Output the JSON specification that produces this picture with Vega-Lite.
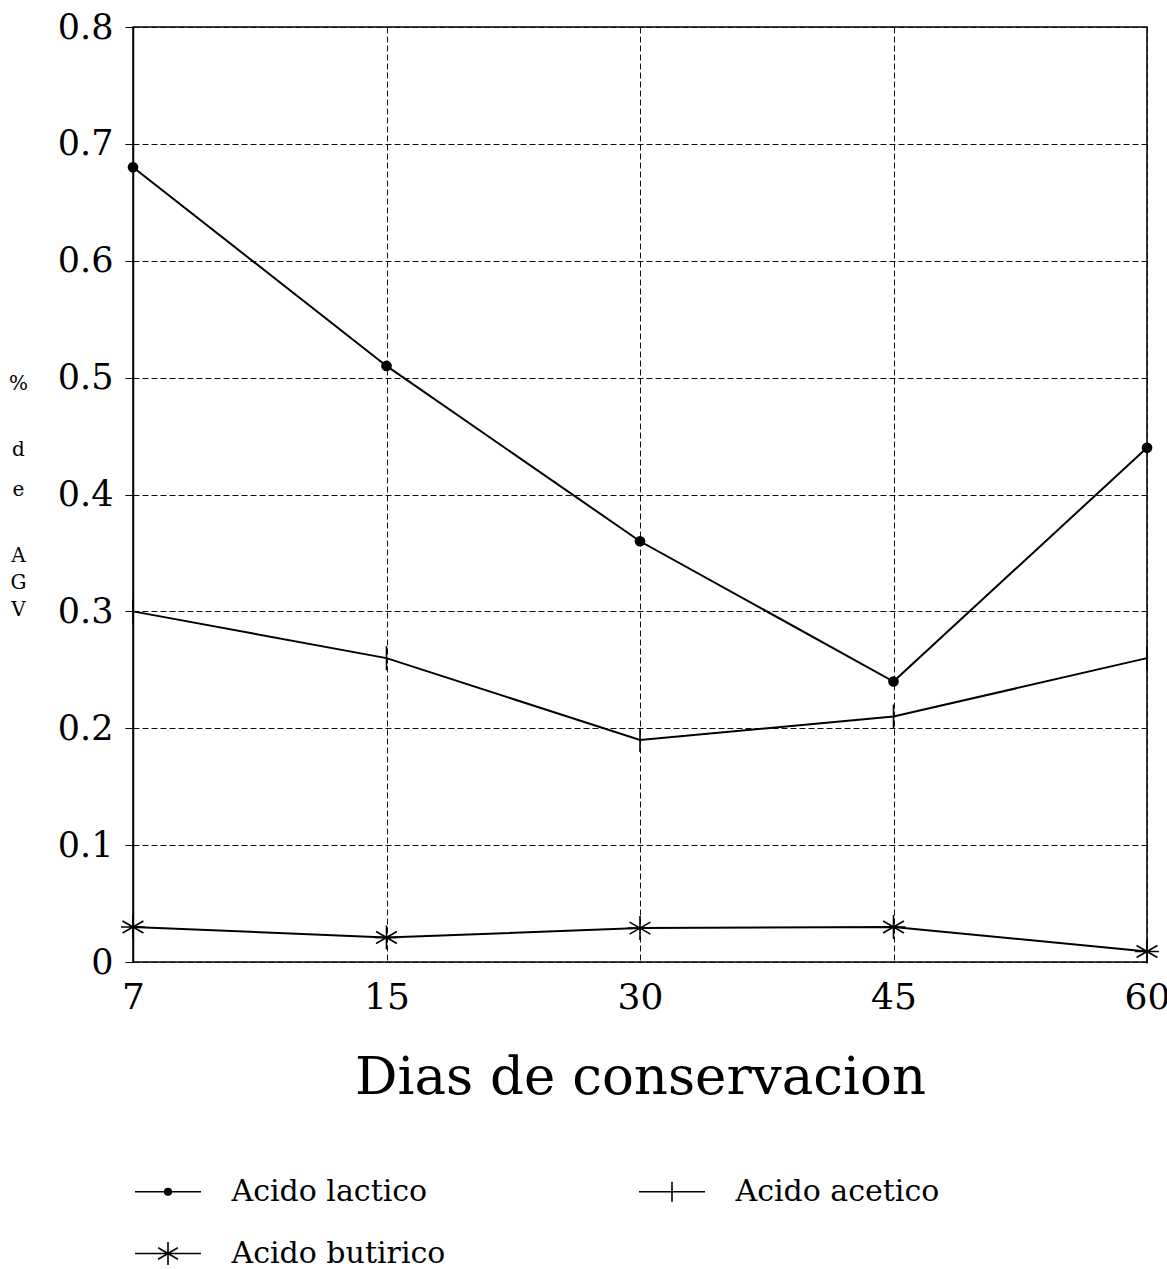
{
  "$schema": "https://vega.github.io/schema/vega-lite/v6.json",
  "width": 1014,
  "height": 935,
  "autosize": "none",
  "padding": {"left": 133, "top": 27, "right": 20, "bottom": 307},
  "background": "white",
  "config": {
    "font": "DejaVu Serif",
    "view": {"stroke": "#000", "strokeWidth": 1.5},
    "axis": {"gridDash": [6, 3], "gridColor": "#111", "gridWidth": 1, "gridOpacity": 1, "domainColor": "#000", "tickColor": "#000", "labelColor": "#000", "titleColor": "#000"}
  },
  "data": {
    "values": [
      {"dia": "7", "serie": "Acido lactico", "valor": 0.68},
      {"dia": "15", "serie": "Acido lactico", "valor": 0.51},
      {"dia": "30", "serie": "Acido lactico", "valor": 0.36},
      {"dia": "45", "serie": "Acido lactico", "valor": 0.24},
      {"dia": "60", "serie": "Acido lactico", "valor": 0.44},
      {"dia": "7", "serie": "Acido acetico", "valor": 0.30},
      {"dia": "15", "serie": "Acido acetico", "valor": 0.26},
      {"dia": "30", "serie": "Acido acetico", "valor": 0.19},
      {"dia": "45", "serie": "Acido acetico", "valor": 0.21},
      {"dia": "60", "serie": "Acido acetico", "valor": 0.26},
      {"dia": "7", "serie": "Acido butirico", "valor": 0.03},
      {"dia": "15", "serie": "Acido butirico", "valor": 0.021},
      {"dia": "30", "serie": "Acido butirico", "valor": 0.029},
      {"dia": "45", "serie": "Acido butirico", "valor": 0.03},
      {"dia": "60", "serie": "Acido butirico", "valor": 0.009}
    ]
  },
  "encoding": {
    "x": {
      "field": "dia", "type": "ordinal", "sort": ["7", "15", "30", "45", "60"],
      "scale": {"type": "point", "padding": 0},
      "axis": {"title": "Dias de conservacion", "labelAngle": 0, "labelFontSize": 36, "labelPadding": 18, "ticks": false, "domain": false, "grid": true, "titleFontSize": 53, "titleFontWeight": "normal", "titlePadding": 36}
    },
    "y": {
      "field": "valor", "type": "quantitative",
      "scale": {"domain": [0, 0.8], "nice": false},
      "axis": {
        "values": [0, 0.1, 0.2, 0.3, 0.4, 0.5, 0.6, 0.7, 0.8], "format": "~g",
        "labelFontSize": 35, "labelPadding": 12, "tickSize": 8, "domainWidth": 1.5, "grid": true,
        "title": ["%", "\u200b", "\u200b", "\u200b", "\u200b", "d", "\u200b", "\u200b", "e", "\u200b", "\u200b", "\u200b", "\u200b", "A", "\u200b", "G", "\u200b", "V"],
        "titleAngle": 0, "titleFontSize": 20, "titleFontWeight": "normal", "titleLineHeight": 13.3,
        "titleAlign": "center", "titleBaseline": "top", "titleX": -115, "titleY": 346
      }
    }
  },
  "layer": [
    {
      "mark": {"type": "line", "color": "#000", "strokeWidth": 2},
      "encoding": {"detail": {"field": "serie"}}
    },
    {
      "mark": {"type": "point", "filled": false, "fill": "#000", "stroke": "#000", "strokeWidth": 1.6, "opacity": 1, "fillOpacity": 1, "strokeOpacity": 1, "size": 576},
      "encoding": {
        "shape": {
          "field": "serie", "type": "nominal",
          "scale": {
            "domain": ["Acido lactico", "Acido acetico", "Acido butirico"],
            "range": ["M0.38,0A0.38,0.38 0 1 1 -0.38,0A0.38,0.38 0 1 1 0.38,0Z", "M0,-1V1", "M0,-1V1M-0.87,-0.5L0.87,0.5M-0.87,0.5L0.87,-0.5M-1,0H1"]
          },
          "legend": null
        }
      }
    },
    {
      "transform": [{"filter": "false"}],
      "mark": {"type": "point", "filled": false, "color": "#000", "strokeWidth": 1.6, "size": 1089, "opacity": 1},
      "encoding": {
        "shape": {
          "field": "serie", "type": "nominal",
          "scale": {
            "domain": ["Acido lactico", "Acido acetico", "Acido butirico"],
            "range": [
              "M-2,0H2M0.2,0A0.2,0.2 0 1 1 -0.2,0A0.2,0.2 0 1 1 0.2,0ZM0.1,0A0.1,0.1 0 1 1 -0.1,0A0.1,0.1 0 1 1 0.1,0Z",
              "M-2,0H2M0,-0.6V0.6",
              "M-2,0H2M0,-0.7V0.7M-0.6,-0.35L0.6,0.35M-0.6,0.35L0.6,-0.35"
            ]
          },
          "legend": {
            "title": null, "orient": "none", "legendX": 17.5, "legendY": 1147,
            "direction": "horizontal", "columns": 2, "columnPadding": 190, "rowPadding": 29,
            "padding": 0, "symbolSize": 1089, "labelOffset": 46, "labelFontSize": 30, "labelColor": "#000",
            "symbolStrokeWidth": 1.6, "symbolOpacity": 1, "labelLimit": 400
          }
        }
      }
    }
  ],
  "resolve": {"scale": {"shape": "independent"}, "legend": {"shape": "independent"}}
}
